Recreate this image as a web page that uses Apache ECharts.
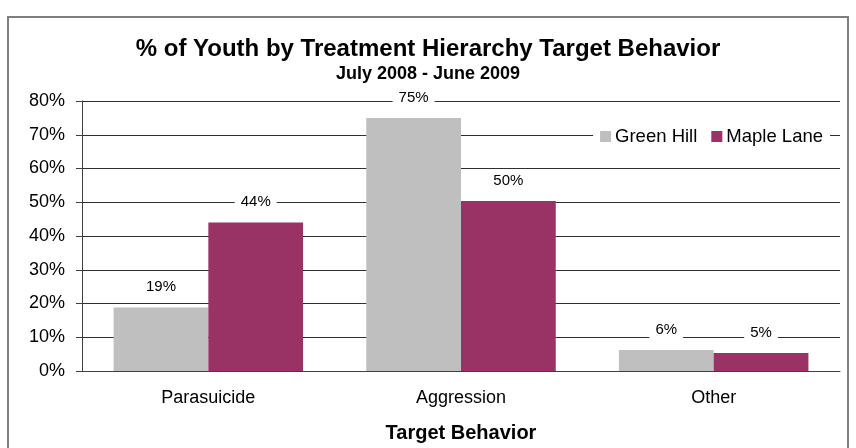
<!DOCTYPE html>
<html>
<head>
<meta charset="utf-8">
<script src="https://cdn.jsdelivr.net/npm/echarts@6/dist/echarts.min.js"></script>
<style>
html,body{margin:0;padding:0;background:#fff;}
#chart{width:856px;height:448px;}
</style>
</head>
<body>
<div id="chart"></div>
<script>
const categories = ['Parasuicide', 'Aggression', 'Other'];
const greenHill = [18.8, 75, 6.2];
const mapleLane = [44, 50.4, 5.3];
const seriesNames = ['Green Hill', 'Maple Lane'];
const yTicks = [0, 10, 20, 30, 40, 50, 60, 70, 80];

const FONT = '"Liberation Sans", Arial, sans-serif';
const chart = echarts.init(document.getElementById('chart'), null, {renderer: 'canvas'});

const labelCfg = {
  show: true,
  position: 'top',
  distance: 10,
  color: '#000',
  fontFamily: FONT,
  fontSize: 15,
  backgroundColor: '#fff',
  padding: [3, 6],
  formatter: p => Math.round(p.value) + '%'
};

chart.setOption({
  backgroundColor: '#fff',
  animation: false,
  title: [{
    text: '% of Youth by Treatment Hierarchy Target Behavior',
    left: 'center', top: 32,
    textStyle: {fontFamily: FONT, fontSize: 24, fontWeight: 'bold', color: '#000'}
  }, {
    text: 'July 2008 - June 2009',
    left: 'center', top: 60,
    textStyle: {fontFamily: FONT, fontSize: 18, fontWeight: 'bold', color: '#000'}
  }],
  legend: {
    data: seriesNames,
    right: 26, top: 125,
    itemWidth: 11, itemHeight: 11, itemGap: 14,
    icon: 'rect',
    backgroundColor: '#fff',
    padding: [2, 7],
    textStyle: {fontFamily: FONT, fontSize: 18.5, color: '#000', padding: [0, 0, 0, -1]}
  },
  grid: {left: 82, right: 16, top: 101, bottom: 77},
  xAxis: {
    type: 'category',
    data: categories,
    name: 'Target Behavior',
    nameLocation: 'middle',
    nameGap: 52,
    nameTextStyle: {fontFamily: FONT, fontSize: 20, fontWeight: 'bold', color: '#000'},
    axisLine: {lineStyle: {color: '#404040', width: 1}},
    axisTick: {show: false},
    axisLabel: {fontFamily: FONT, fontSize: 18, color: '#000', margin: 18}
  },
  yAxis: {
    type: 'value',
    min: yTicks[0], max: yTicks[yTicks.length - 1], interval: 10,
    axisLine: {show: true, lineStyle: {color: '#404040', width: 1}},
    axisTick: {show: true, length: 6, lineStyle: {color: '#404040'}},
    axisLabel: {fontFamily: FONT, fontSize: 18, color: '#000', margin: 17, formatter: v => v + '%'},
    splitLine: {lineStyle: {color: '#303030', width: 1}}
  },
  series: [{
    name: seriesNames[0], type: 'bar', data: greenHill,
    itemStyle: {color: '#BFBFBF'},
    barGap: '0%', barCategoryGap: '25%',
    label: labelCfg
  }, {
    name: seriesNames[1], type: 'bar', data: mapleLane,
    itemStyle: {color: '#993366'},
    label: labelCfg
  }],
  graphic: [{
    type: 'rect',
    shape: {x: 8, y: 17, width: 840, height: 460},
    style: {fill: 'none', stroke: '#7f7f7f', lineWidth: 2},
    silent: true, z: 100
  }]
});
</script>
</body>
</html>
